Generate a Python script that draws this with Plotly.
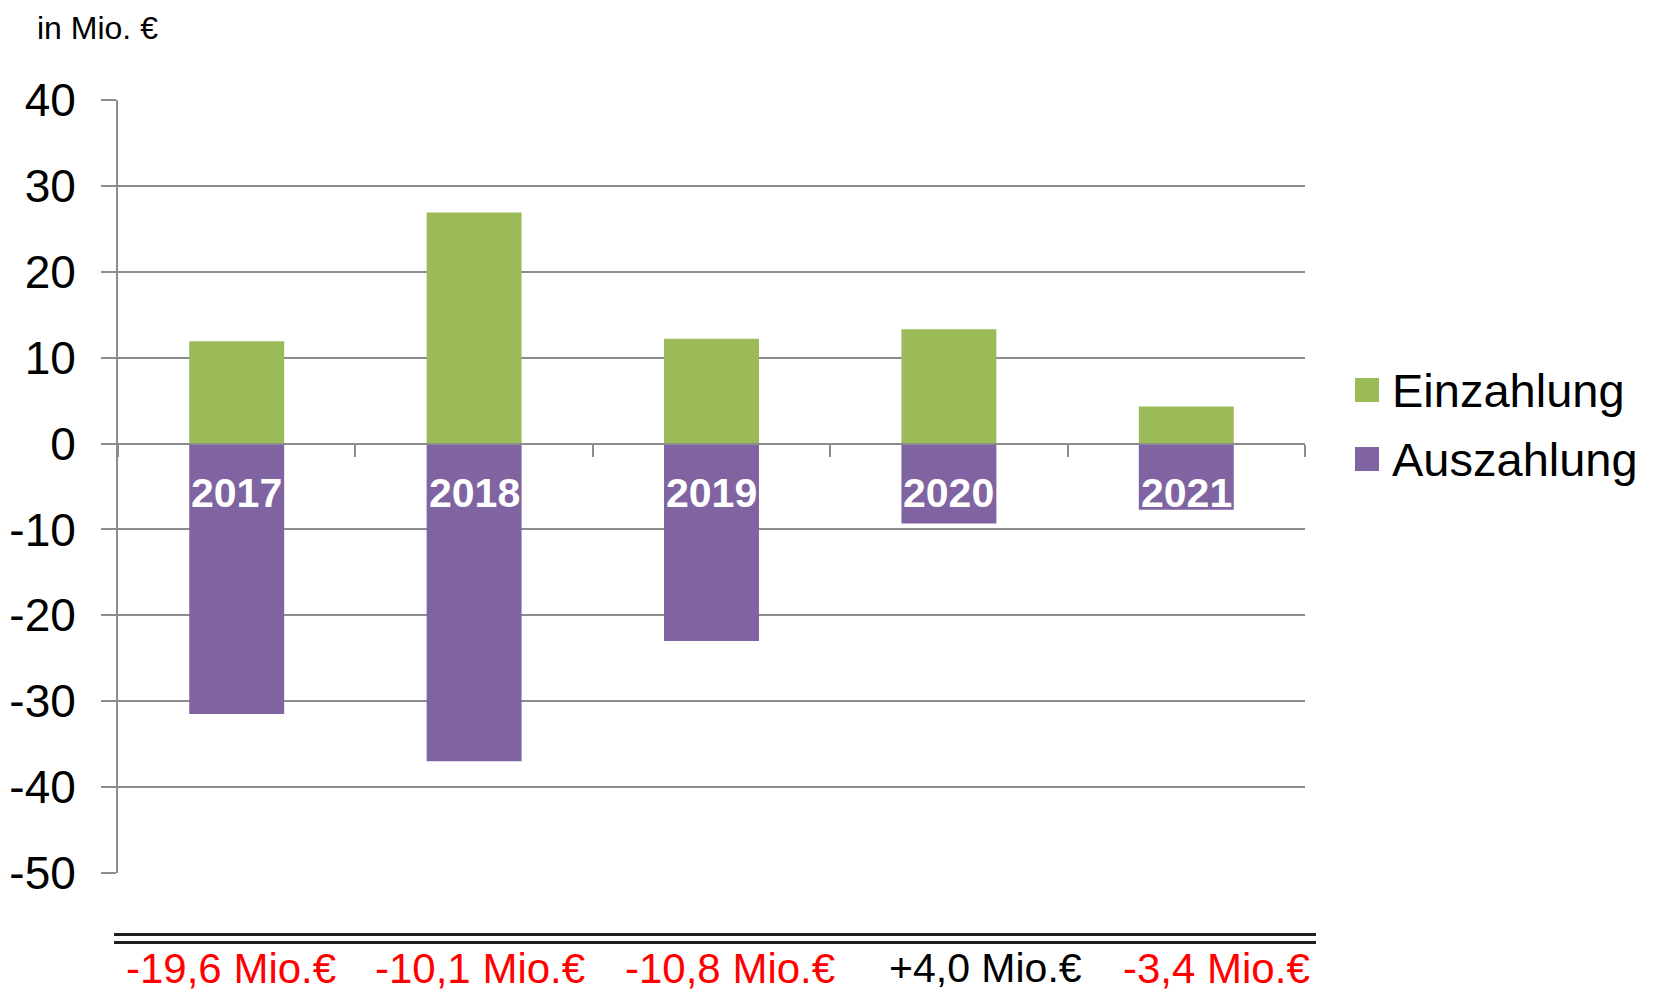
import plotly.graph_objects as go

years = ["2017", "2018", "2019", "2020", "2021"]
einzahlung = [11.9, 26.9, 12.2, 13.3, 4.3]
auszahlung = [-31.5, -37.0, -23.0, -9.3, -7.7]
saldo_labels = ["-19,6 Mio.€", "-10,1 Mio.€", "-10,8 Mio.€", "+4,0 Mio.€", "-3,4 Mio.€"]
saldo_colors = ["#FF0000", "#FF0000", "#FF0000", "#000000", "#FF0000"]
y_ticks = [40, 30, 20, 10, 0, -10, -20, -30, -40, -50]

GREEN = "#9BBB59"
PURPLE = "#8064A2"
GRID = "#8C8C8C"
FONT = "Liberation Sans, Arial, sans-serif"

# page has an 8px body margin; figure sized to fit the window exactly
OFF = 8
W, H = 1656 - 2 * OFF, 1002 - 2 * OFF
L, T = 118 - OFF, 100 - OFF
R = W - (1305 - OFF)
B = H - round(872.7 - OFF)
pw, ph = W - L - R, H - T - B


def px(page_x):
    return (page_x - OFF - L) / pw


def py(page_y):
    return (H - B - (page_y - OFF)) / ph


fig = go.Figure()
fig.add_trace(go.Bar(x=years, y=einzahlung, name="Einzahlung", marker=dict(color=GREEN, line=dict(width=0))))
fig.add_trace(go.Bar(x=years, y=auszahlung, name="Auszahlung", marker=dict(color=PURPLE, line=dict(width=0))))

annotations = []
for i, yr in enumerate(years):
    annotations.append(dict(x=i, y=-5.8, xref="x", yref="y", text="<b>" + yr + "</b>", showarrow=False,
                            font=dict(family=FONT, size=41, color="white")))

label_px = [231, 480, 730, 985, 1216]
for i, (lab, col) in enumerate(zip(saldo_labels, saldo_colors)):
    size = 41 if col == "#000000" else 42
    annotations.append(dict(x=px(label_px[i]), y=py(968), xref="paper", yref="paper", text=lab,
                            showarrow=False, xanchor="center", yanchor="middle",
                            font=dict(family=FONT, size=size, color=col)))

annotations.append(dict(x=px(35), y=py(OFF), xref="paper", yref="paper", text="in Mio. €", showarrow=False,
                        xanchor="left", yanchor="top",
                        font=dict(family=FONT, size=32, color="black")))

shapes = []
legend_items = [("Einzahlung", GREEN, 390), ("Auszahlung", PURPLE, 459)]
for name, col, yc in legend_items:
    shapes.append(dict(type="rect", xref="paper", yref="paper", x0=px(1355), x1=px(1379),
                       y0=py(yc + 12), y1=py(yc - 12), fillcolor=col, line=dict(width=0)))
    annotations.append(dict(x=px(1390), y=py(yc), xref="paper", yref="paper", text=name, showarrow=False,
                            xanchor="left", yanchor="middle", font=dict(family=FONT, size=47, color="black")))

for yline in (934.5, 942.5):
    shapes.append(dict(type="line", xref="paper", yref="paper", x0=px(114), x1=px(1316),
                       y0=py(yline), y1=py(yline), line=dict(color="#1E1E1E", width=3)))

fig.update_layout(
    barmode="relative",
    bargap=0.6,
    width=W, height=H,
    margin=dict(l=L, r=R, t=T, b=B, autoexpand=False),
    paper_bgcolor="white", plot_bgcolor="white",
    showlegend=False,
    annotations=annotations,
    shapes=shapes,
    xaxis=dict(type="category", range=[-0.5, len(years) - 0.5], autorange=False,
               anchor="free", position=50 / 90, showline=True, linecolor=GRID, linewidth=2,
               ticks="outside", tickson="boundaries", ticklen=12, tickwidth=2, tickcolor=GRID,
               showticklabels=False, showgrid=False, zeroline=False),
    yaxis=dict(range=[-50, 40], autorange=False, tickvals=y_ticks, ticktext=[str(v) for v in y_ticks],
               showline=True, linecolor=GRID, linewidth=2, showgrid=True, gridcolor=GRID, gridwidth=2,
               zeroline=False, ticks="outside", ticklen=15, tickwidth=2, tickcolor=GRID,
               ticklabelstandoff=16,
               tickfont=dict(family=FONT, size=46, color="black")),
)

fig.write_html("out.html")
